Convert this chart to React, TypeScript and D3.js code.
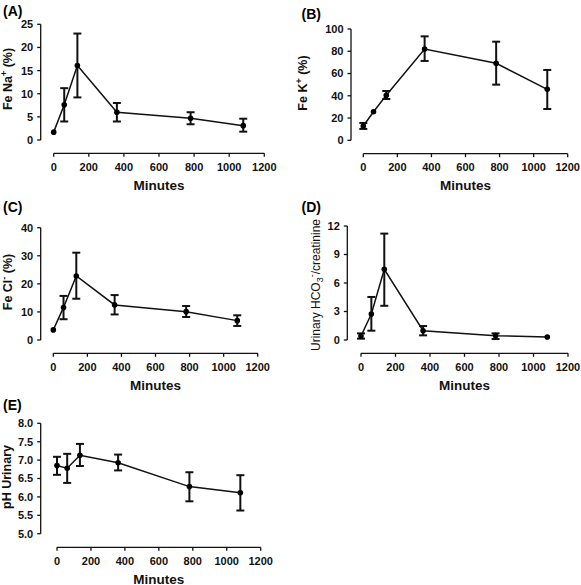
import React from "react";
import * as d3 from "d3";

// ---------- data ----------
const minutes = [0, 60, 135, 360, 780, 1080];
const xTicks = [0, 200, 400, 600, 800, 1000, 1200];

const feNaMean = [1.7, 7.6, 16.1, 6.0, 4.7, 3.1];
const feNaLow = [null, 4.0, 9.2, 4.0, 3.4, 1.8];
const feNaHigh = [null, 11.2, 23.0, 8.0, 6.0, 4.6];
const feNaTicks = [0, 5, 10, 15, 20, 25];

const feKMean = [12.9, 25.7, 40.4, 82.0, 69.2, 45.8];
const feKLow = [10.2, null, 37.1, 71.3, 50.0, 28.1];
const feKHigh = [15.6, null, 44.3, 93.4, 88.6, 63.2];
const feKTicks = [0, 20, 40, 60, 80, 100];

const feClMean = [3.6, 11.6, 22.8, 12.5, 10.1, 6.9];
const feClLow = [null, 7.4, 14.7, 9.1, 8.2, 5.0];
const feClHigh = [null, 15.7, 31.1, 16.0, 12.1, 8.8];
const feClTicks = [0, 10, 20, 30, 40];

const hco3Mean = [0.42, 2.74, 7.44, 0.98, 0.46, 0.32];
const hco3Low = [0.14, 0.98, 3.6, 0.49, 0.1, null];
const hco3High = [0.7, 4.53, 11.2, 1.47, 0.7, null];
const hco3Ticks = [0, 3, 6, 9, 12];

const phMean = [6.85, 6.78, 7.13, 6.93, 6.28, 6.11];
const phLow = [6.6, 6.38, 6.84, 6.72, 5.88, 5.63];
const phHigh = [7.09, 7.17, 7.44, 7.15, 6.67, 6.59];
const phTicks = [5.0, 5.5, 6.0, 6.5, 7.0, 7.5, 8.0];

const panelLetters = ["(A)", "(B)", "(C)", "(D)", "(E)"];
const xLabel = "Minutes";

// ---------- layout ----------
const FONT = "'Liberation Sans', Arial, Helvetica, sans-serif";

type Panel = {
  letter: string;
  mean: number[];
  low: (number | null)[];
  high: (number | null)[];
  yTicks: number[];
  yFmt: (v: number) => string;
  yLabel: React.ReactNode;
  yLabelBold: boolean;
  yAxisX: number;
  yTop: number;
  yBottom: number;
  xAxisY: number;
  x0: number;
  x1: number;
  letterX: number;
  letterY: number;
  labelX: number;
  labelY: number;
};

const intFmt = d3.format("d");
const oneFmt = d3.format(".1f");

const panels: Panel[] = [
  {
    letter: panelLetters[0], mean: feNaMean, low: feNaLow, high: feNaHigh, yTicks: feNaTicks, yFmt: intFmt,
    yLabel: (<>Fe Na<tspan dy={-5} fontSize={9}>+</tspan><tspan dy={5}> (%)</tspan></>), yLabelBold: true,
    yAxisX: 40.7, yTop: 24.3, yBottom: 140, xAxisY: 153.3, x0: 53.7, x1: 264.3,
    letterX: 3, letterY: 15.5, labelX: 12, labelY: 79,
  },
  {
    letter: panelLetters[1], mean: feKMean, low: feKLow, high: feKHigh, yTicks: feKTicks, yFmt: intFmt,
    yLabel: (<>Fe K<tspan dy={-5} fontSize={9}>+</tspan><tspan dy={5}> (%)</tspan></>), yLabelBold: true,
    yAxisX: 351, yTop: 29, yBottom: 140.3, xAxisY: 153.7, x0: 363.3, x1: 567.7,
    letterX: 301.5, letterY: 18.5, labelX: 307, labelY: 83,
  },
  {
    letter: panelLetters[2], mean: feClMean, low: feClLow, high: feClHigh, yTicks: feClTicks, yFmt: intFmt,
    yLabel: (<>Fe Cl<tspan dy={-5} fontSize={9}>-</tspan><tspan dy={5}> (%)</tspan></>), yLabelBold: true,
    yAxisX: 40.7, yTop: 227.7, yBottom: 340, xAxisY: 353.3, x0: 53.3, x1: 257.7,
    letterX: 3, letterY: 212, labelX: 11.5, labelY: 282,
  },
  {
    letter: panelLetters[3], mean: hco3Mean, low: hco3Low, high: hco3High, yTicks: hco3Ticks, yFmt: intFmt,
    yLabel: (<>Urinary HCO<tspan dy={3} fontSize={9}>3</tspan><tspan dy={-8} fontSize={9}>-</tspan><tspan dy={5}>/creatinine</tspan></>), yLabelBold: false,
    yAxisX: 347.3, yTop: 226, yBottom: 340, xAxisY: 353.3, x0: 361, x1: 568,
    letterX: 301.5, letterY: 212, labelX: 319.5, labelY: 285,
  },
  {
    letter: panelLetters[4], mean: phMean, low: phLow, high: phHigh, yTicks: phTicks, yFmt: oneFmt,
    yLabel: "pH Urinary", yLabelBold: true,
    yAxisX: 40.7, yTop: 423.3, yBottom: 533.7, xAxisY: 547.3, x0: 57, x1: 260.7,
    letterX: 3, letterY: 410, labelX: 10.5, labelY: 477,
  },
];

function PanelView({ p }: { p: Panel }) {
  const x = d3.scaleLinear().domain([0, 1200]).range([p.x0, p.x1]);
  const yMin = p.yTicks[0];
  const yMax = p.yTicks[p.yTicks.length - 1];
  const y = d3.scaleLinear().domain([yMin, yMax]).range([p.yBottom, p.yTop]);
  const pts = minutes.map((m, i) => [m, p.mean[i]] as [number, number]);
  const line = d3.line<[number, number]>().x((d) => x(d[0])).y((d) => y(d[1]));
  const stroke = "#111";
  return (
    <g>
      <text x={p.letterX} y={p.letterY} fontSize={14} fontWeight="bold" fill="#000">{p.letter}</text>
      {/* y axis */}
      <line x1={p.yAxisX} x2={p.yAxisX} y1={p.yTop} y2={p.yBottom} stroke={stroke} strokeWidth={1.3} />
      {p.yTicks.map((t) => (
        <g key={"y" + t}>
          <line x1={p.yAxisX - 3.5} x2={p.yAxisX} y1={y(t)} y2={y(t)} stroke={stroke} strokeWidth={1.3} />
          <text x={p.yAxisX - 7.5} y={y(t)} dy="0.36em" textAnchor="end" fontSize={11} fontWeight="bold" fill="#111">
            {p.yFmt(t)}
          </text>
        </g>
      ))}
      {/* x axis */}
      <line x1={x(0)} x2={x(1200)} y1={p.xAxisY} y2={p.xAxisY} stroke={stroke} strokeWidth={1.3} />
      {xTicks.map((t) => (
        <g key={"x" + t}>
          <line x1={x(t)} x2={x(t)} y1={p.xAxisY} y2={p.xAxisY + 3.5} stroke={stroke} strokeWidth={1.3} />
          <text x={x(t)} y={p.xAxisY + 17.3} textAnchor="middle" fontSize={11} fontWeight="bold" fill="#111">
            {t}
          </text>
        </g>
      ))}
      <text x={(p.x0 + p.x1) / 2} y={p.xAxisY + 36.5} textAnchor="middle" fontSize={13.5} fontWeight="bold" fill="#111">
        {xLabel}
      </text>
      <text
        transform={`translate(${p.labelX},${p.labelY}) rotate(-90)`}
        textAnchor="middle"
        fontSize={p.yLabelBold ? 12.5 : 12}
        fontWeight={p.yLabelBold ? "bold" : "normal"}
        fill="#111"
      >
        {p.yLabel}
      </text>
      {/* data line */}
      <path d={line(pts) || ""} fill="none" stroke={stroke} strokeWidth={1.5} />
      {/* error bars */}
      {minutes.map((m, i) => {
        const lo = p.low[i];
        const hi = p.high[i];
        if (lo == null || hi == null) return null;
        const cx = x(m);
        return (
          <g key={"e" + i} stroke={stroke} strokeWidth={2}>
            <line x1={cx} x2={cx} y1={y(lo)} y2={y(hi)} />
            <line x1={cx - 4} x2={cx + 4} y1={y(hi)} y2={y(hi)} />
            <line x1={cx - 4} x2={cx + 4} y1={y(lo)} y2={y(lo)} />
          </g>
        );
      })}
      {minutes.map((m, i) => (
        <circle key={"c" + i} cx={x(m)} cy={y(p.mean[i])} r={2.8} fill="#000" />
      ))}
    </g>
  );
}

export default function App() {
  return (
    <svg
      width={581}
      height={585}
      style={{ position: "absolute", left: 0, top: 0, background: "#fff", fontFamily: FONT }}
    >
      <rect x={0} y={0} width={581} height={585} fill="#fff" />
      {panels.map((p) => (
        <PanelView key={p.letter} p={p} />
      ))}
    </svg>
  );
}
